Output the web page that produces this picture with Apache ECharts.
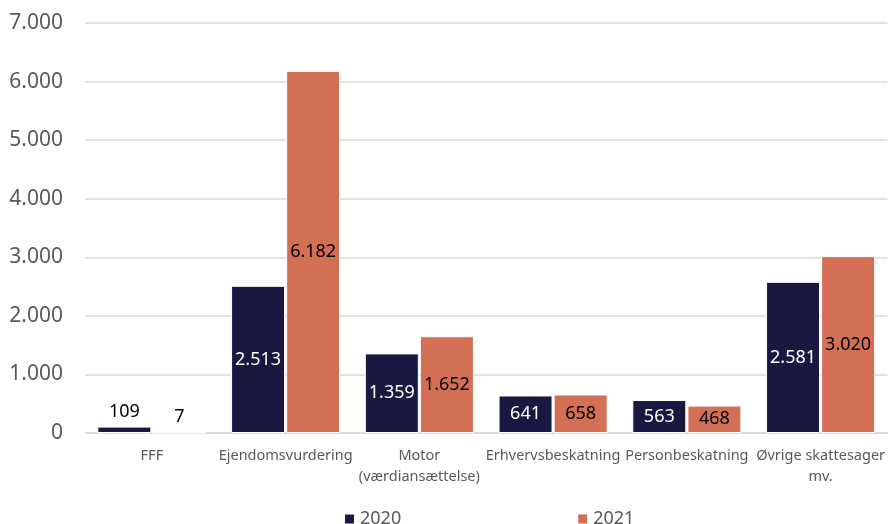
<!DOCTYPE html>
<html>
<head>
<meta charset="utf-8">
<script src="https://cdn.jsdelivr.net/npm/echarts@6/dist/echarts.min.js"></script>
<style>
  html, body { margin: 0; padding: 0; background: #fff; }
  #main { width: 888px; height: 524px; }
</style>
</head>
<body>
<div id="main"></div>
<script>
var categories = ['FFF', 'Ejendomsvurdering', 'Motor\n(værdiansættelse)', 'Erhvervsbeskatning', 'Personbeskatning', 'Øvrige skattesager\nmv.'];
var values2020 = [109, 2513, 1359, 641, 563, 2581];
var values2021 = [7, 6182, 1652, 658, 468, 3020];
var seriesNames = ['2020', '2021'];

var FONT = '"Noto Sans", sans-serif';
var fmt = function (v) {
	return String(v).replace(/\B(?=(\d{3})+(?!\d))/g, '.');
};

// small bars get their label above the bar in black
var toItems = function (arr, insideColor) {
	return arr.map(function (v) {
		if (v < 300) {
			return { value: v, label: { position: 'top', color: '#000', distance: 6 } };
		}
		return { value: v, label: { color: insideColor } };
	});
};

var myChart = echarts.init(document.getElementById('main'));
var option = {
	animation: false,
	textStyle: { fontFamily: FONT },
	grid: {
		left: 85,
		right: 0,
		top: 23,
		bottom: 91
	},
	legend: {
		left: 338,
		top: 505,
		itemWidth: 11,
		itemHeight: 11,
		itemGap: 175,
		icon: 'rect',
		textStyle: { fontFamily: FONT, fontSize: 18, color: '#595959' },
		data: seriesNames
	},
	xAxis: {
		type: 'category',
		data: categories,
		axisTick: { show: false },
		axisLine: { lineStyle: { color: '#d9d9d9', width: 1.5 } },
		axisLabel: {
			color: '#595959',
			fontFamily: FONT,
			fontSize: 14.5,
			lineHeight: 21,
			margin: 12,
			interval: 0
		}
	},
	yAxis: {
		type: 'value',
		min: 0,
		max: 7000,
		interval: 1000,
		axisLine: { show: false },
		axisTick: { show: false },
		splitLine: { lineStyle: { color: '#d9d9d9', width: 1.5 } },
		axisLabel: {
			color: '#595959',
			fontFamily: FONT,
			fontSize: 21,
			margin: 22,
			formatter: fmt
		}
	},
	series: [
		{
			name: seriesNames[0],
			type: 'bar',
			data: toItems(values2020, '#fff'),
			barWidth: 54,
			barGap: '2%',
			itemStyle: { color: '#191840', borderColor: '#fff', borderWidth: 1 },
			label: {
				show: true,
				position: 'inside',
				fontFamily: FONT,
				fontSize: 18,
				formatter: function (p) { return fmt(p.value); }
			}
		},
		{
			name: seriesNames[1],
			type: 'bar',
			data: toItems(values2021, '#000'),
			barWidth: 54,
			itemStyle: { color: '#d36f54', borderColor: '#fff', borderWidth: 1 },
			label: {
				show: true,
				position: 'inside',
				fontFamily: FONT,
				fontSize: 18,
				formatter: function (p) { return fmt(p.value); }
			}
		}
	]
};
myChart.setOption(option);
</script>
</body>
</html>
